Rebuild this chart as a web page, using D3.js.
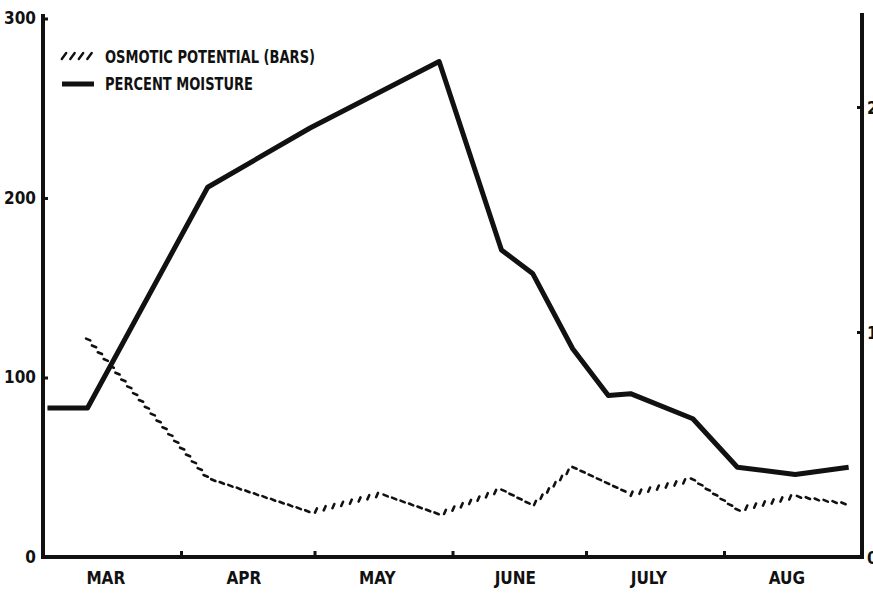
<!DOCTYPE html>
<html>
<head>
<meta charset="utf-8">
<script src="https://cdn.jsdelivr.net/npm/d3@7/dist/d3.min.js"></script>
<style>
  html, body { margin: 0; padding: 0; background: #fff; }
  svg { display: block; }
  text { font-family: "Liberation Sans Narrow", "DejaVu Sans Condensed", "Arial Narrow", sans-serif; font-weight: bold; fill: #111; }
</style>
</head>
<body>
<script>
// Sampling dates (season of a single year) and measured series
const moistureDates  = ["03-02", "03-11", "04-07", "04-30", "05-29", "06-12", "06-19", "06-28", "07-06", "07-11", "07-25", "08-04", "08-17", "08-29"];
const moistureValues = [83, 83, 206, 239, 276, 171, 158, 116, 90, 91, 77, 50, 46, 50];

const osmoticDates  = ["03-11", "04-07", "04-30", "05-16", "05-29", "06-12", "06-19", "06-28", "07-11", "07-25", "08-04", "08-17", "08-29"];
const osmoticValues = [9.7, 3.5, 2.0, 2.8, 1.9, 3.0, 2.3, 4.0, 2.8, 3.45, 2.1, 2.7, 2.35];

const monthStarts = ["03-01", "04-01", "05-01", "06-01", "07-01", "08-01", "09-01"];
const monthLabels = ["MAR", "APR", "MAY", "JUNE", "JULY", "AUG"];
const leftTicks  = [0, 100, 200, 300];
const rightTicks = [0, 10, 20];
const legendLabels = ["OSMOTIC POTENTIAL (BARS)", "PERCENT MOISTURE"];

const YEAR = 1971;
const toDate = s => new Date(Date.UTC(YEAR, +s.slice(0, 2) - 1, +s.slice(3, 5)));

const W = 873, H = 593;
const svg = d3.select("body").append("svg").attr("width", W).attr("height", H);

const x = d3.scaleUtc().domain([toDate("03-01"), toDate("09-01")]).range([43, 862]);
const yL = d3.scaleLinear().domain([0, 300]).range([557, 18.5]);
const yR = d3.scaleLinear().domain([0, 24]).range([557, 17]);

const INK = "#111";

// ---- axes ----
function styleAxis(g) {
  g.select(".domain").attr("stroke", INK).attr("stroke-width", 4);
  g.selectAll(".tick line").attr("stroke", INK).attr("stroke-width", 3);
  g.selectAll(".tick text").style("font-size", "17px").attr("fill", INK);
}

// left axis (percent moisture)
svg.append("g")
  .attr("transform", "translate(43,0)")
  .call(d3.axisLeft(yL).tickValues(leftTicks).tickSize(-5).tickSizeOuter(0).tickPadding(7))
  .call(styleAxis)
  .call(g => g.select(".domain").attr("d", "M0,14V559"));

// right axis (osmotic potential, bars); labels run off the page edge
svg.append("g")
  .attr("transform", "translate(862,0)")
  .call(d3.axisRight(yR).tickValues(rightTicks).tickSize(-5).tickSizeOuter(0).tickPadding(5))
  .call(styleAxis)
  .call(g => g.select(".domain").attr("d", "M0,13V559"))
  .call(g => g.selectAll(".tick text").attr("dy", "0.38em"));

// bottom axis: month boundary ticks
svg.append("g")
  .attr("transform", "translate(0,557)")
  .call(d3.axisBottom(x).tickValues(monthStarts.slice(1, -1).map(toDate)).tickSize(-6).tickSizeOuter(0).tickFormat(""))
  .call(styleAxis)
  .call(g => g.select(".domain").attr("d", "M41,0H864"));

// month names centred mid-month
svg.append("g")
  .attr("transform", "translate(0,557)")
  .call(d3.axisBottom(x)
    .tickValues(monthStarts.slice(0, -1).map(s => d3.utcDay.offset(toDate(s), 14)))
    .tickSize(0).tickPadding(15)
    .tickFormat((d, i) => monthLabels[i]))
  .call(g => g.select(".domain").remove())
  .call(g => g.selectAll(".tick text").style("font-size", "17px").attr("fill", INK));

// ---- percent moisture: heavy solid line ----
const moisture = moistureDates.map((d, i) => ({ date: toDate(d), value: moistureValues[i] }));
svg.append("path")
  .datum(moisture)
  .attr("fill", "none")
  .attr("stroke", INK)
  .attr("stroke-width", 5)
  .attr("stroke-linejoin", "round")
  .attr("d", d3.line().x(d => x(d.date)).y(d => yL(d.value)));

// ---- osmotic potential: hatched line made of short slanted strokes ----
const osmotic = osmoticDates.map((d, i) => ({ date: toDate(d), value: osmoticValues[i] }));
const guide = svg.append("path")
  .datum(osmotic)
  .attr("fill", "none")
  .attr("stroke", "none")
  .attr("d", d3.line().x(d => x(d.date)).y(d => yR(d.value)));

const node = guide.node();
const total = node.getTotalLength();
const step = 9, half = 2.3;
const hatch = [];
for (let l = 1; l <= total; l += step) {
  const p = node.getPointAtLength(l);
  const a = node.getPointAtLength(Math.max(0, l - 1.5));
  const b = node.getPointAtLength(Math.min(total, l + 1.5));
  const descending = (b.y - a.y) > 0.05 * (b.x - a.x);
  const ang = descending ? 0.4 : -1.15;
  hatch.push({ x: p.x, y: p.y, ang });
}
svg.append("g").selectAll("line")
  .data(hatch)
  .join("line")
  .attr("x1", d => d.x - half * Math.cos(d.ang))
  .attr("y1", d => d.y - half * Math.sin(d.ang))
  .attr("x2", d => d.x + half * Math.cos(d.ang))
  .attr("y2", d => d.y + half * Math.sin(d.ang))
  .attr("stroke", INK)
  .attr("stroke-width", 2.6)
  .attr("stroke-linecap", "round");

// ---- legend ----
const legend = svg.append("g");
// hatched sample
legend.append("g").selectAll("line")
  .data(d3.range(4))
  .join("line")
  .attr("x1", i => 64 + i * 8.5 - 2.2)
  .attr("y1", 59)
  .attr("x2", i => 64 + i * 8.5 + 2.2)
  .attr("y2", 53)
  .attr("stroke", INK)
  .attr("stroke-width", 2.4)
  .attr("stroke-linecap", "round");
// solid sample
legend.append("line")
  .attr("x1", 62).attr("x2", 94).attr("y1", 84).attr("y2", 84)
  .attr("stroke", INK).attr("stroke-width", 5);

legend.selectAll("text")
  .data(legendLabels)
  .join("text")
  .attr("x", 105)
  .attr("y", (d, i) => 63 + i * 27)
  .attr("textLength", (d, i) => i === 0 ? 210 : 148)
  .attr("lengthAdjust", "spacingAndGlyphs")
  .style("font-size", "18px")
  .text(d => d);
</script>
</body>
</html>
